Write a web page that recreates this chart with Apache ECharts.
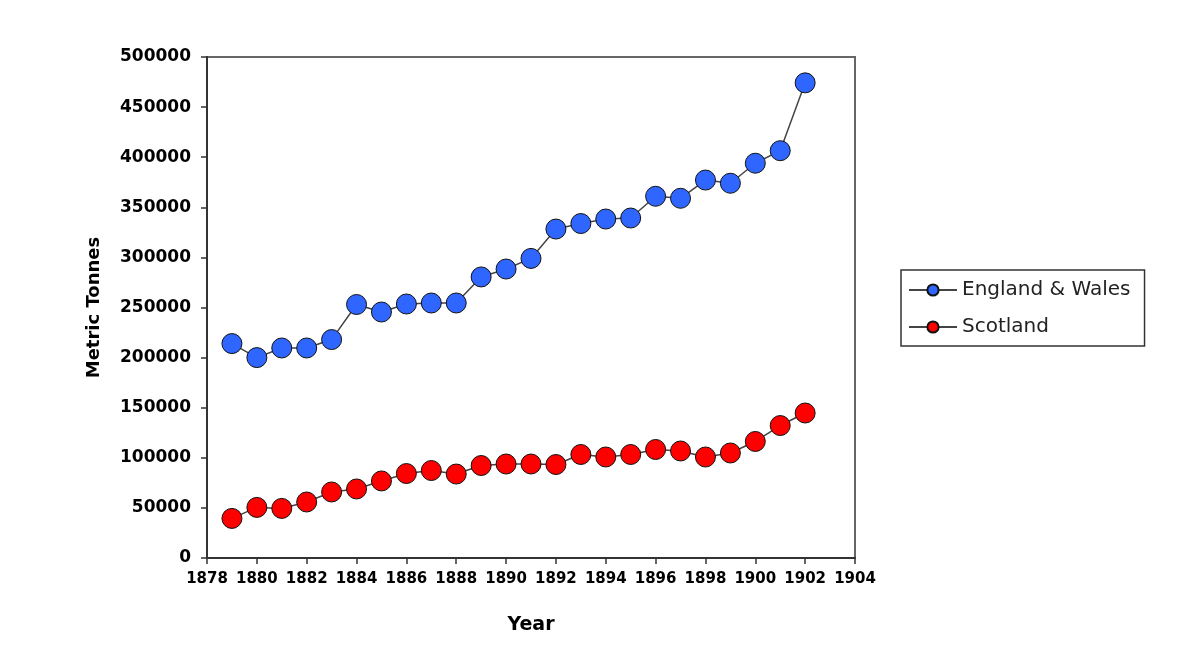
<!DOCTYPE html>
<html>
<head>
<meta charset="utf-8">
<script src="https://cdn.jsdelivr.net/npm/echarts@6/dist/echarts.min.js"></script>
<style>
html,body{margin:0;padding:0;background:#fff;}
#main{width:1191px;height:662px;}
</style>
</head>
<body>
<div id="main"></div>
<script>
const years = [1879,1880,1881,1882,1883,1884,1885,1886,1887,1888,1889,1890,1891,1892,1893,1894,1895,1896,1897,1898,1899,1900,1901,1902];
const englandWales = [214000,200000,209600,209600,218000,253000,245500,253500,254500,254500,280500,288400,299000,328300,333800,338300,339300,361000,359000,377200,374000,394000,406500,474200];
const scotland = [39500,50500,49500,55900,65900,68900,76900,84300,87300,83800,92300,93800,93800,93300,103300,100800,103300,108300,106800,100800,104800,116300,132200,144700];
const xTicks = {min:1878, max:1904, interval:2};
const yTicks = {min:0, max:500000, interval:50000};

const chart = echarts.init(document.getElementById('main'), null, {renderer:'canvas'});
const pair = (arr) => years.map((y,i)=>[y, arr[i]]);
const tickFont = 'DejaVu Sans';
chart.setOption({
  animation:false,
  backgroundColor:'#fff',
  grid:{left:207, top:57, right:336, bottom:104, show:true, borderColor:'#666', borderWidth:2, backgroundColor:'transparent'},
  legend:{
    left:901, top:270, orient:'vertical',
    itemWidth:48, itemHeight:14, itemGap:17,
    borderColor:'#333', borderWidth:1.5, padding:[10,14,9,7],
    textStyle:{fontFamily:'DejaVu Sans', fontSize:20, color:'#222'},
    data:['England & Wales','Scotland']
  },
  xAxis:{
    type:'value', min:xTicks.min, max:xTicks.max, interval:xTicks.interval,
    name:'Year', nameLocation:'middle', nameGap:58,
    nameTextStyle:{fontFamily:tickFont, fontWeight:'bold', fontSize:19, color:'#000'},
    axisLine:{show:true, lineStyle:{color:'#333', width:2}},
    axisTick:{show:true, length:6, lineStyle:{color:'#333', width:1.5}},
    axisLabel:{margin:14, fontFamily:tickFont, fontWeight:'bold', fontSize:15, color:'#000', formatter:v=>String(v)},
    splitLine:{show:false}
  },
  yAxis:{
    type:'value', min:yTicks.min, max:yTicks.max, interval:yTicks.interval,
    name:'Metric Tonnes', nameLocation:'middle', nameGap:104,
    nameTextStyle:{fontFamily:tickFont, fontWeight:'bold', fontSize:18, color:'#000'},
    axisLine:{show:true, lineStyle:{color:'#333', width:2}},
    axisTick:{show:true, length:6, lineStyle:{color:'#333', width:1.5}},
    axisLabel:{margin:16, fontFamily:tickFont, fontWeight:'bold', fontSize:17, color:'#000', formatter:v=>String(v)},
    splitLine:{show:false}
  },
  series:[
    {name:'England & Wales', type:'line', data:pair(englandWales), symbol:'circle', symbolSize:20,
     lineStyle:{color:'#444', width:1.5}, itemStyle:{color:'#2F66FF', borderColor:'#111', borderWidth:1}},
    {name:'Scotland', type:'line', data:pair(scotland), symbol:'circle', symbolSize:20,
     lineStyle:{color:'#444', width:1.5}, itemStyle:{color:'#FF0000', borderColor:'#111', borderWidth:1}}
  ]
});
</script>
</body>
</html>
